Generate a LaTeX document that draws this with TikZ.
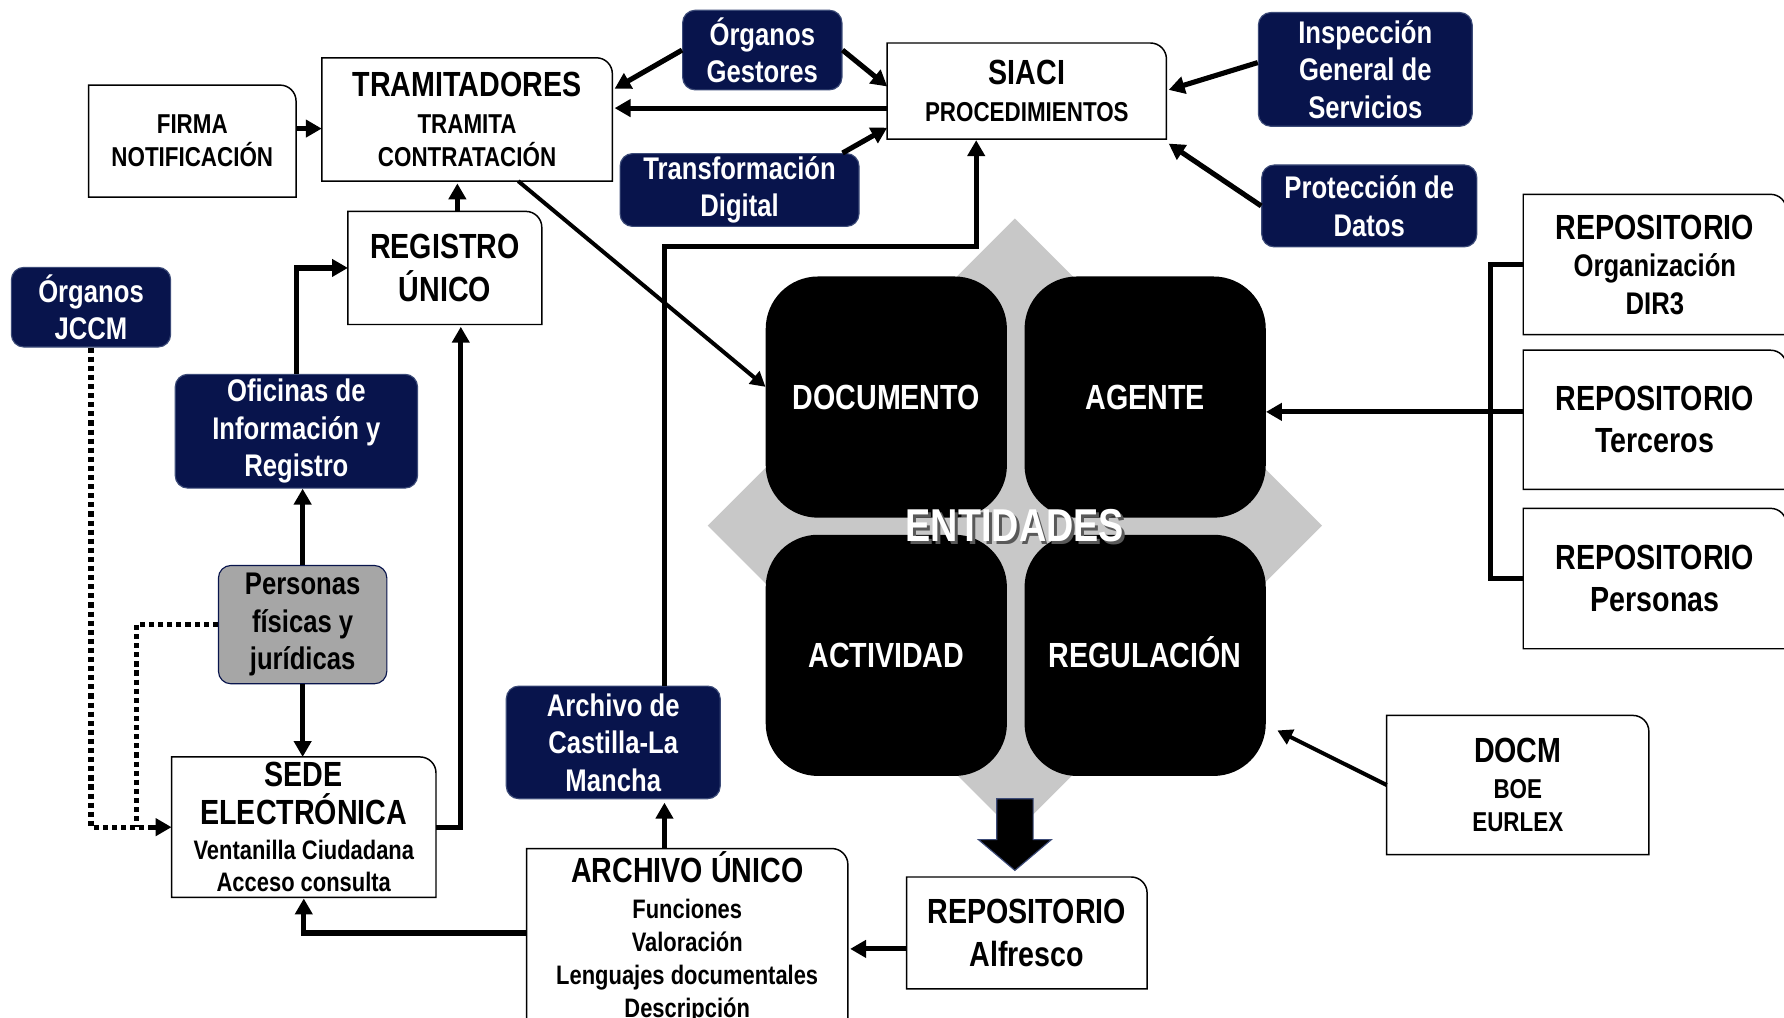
\documentclass[tikz,border=0pt]{standalone}
\usepackage{fontspec}
\setmainfont[FakeStretch=0.82]{Liberation Sans}
\usepackage{tikz}
\usetikzlibrary{arrows.meta}

\definecolor{navy}{RGB}{8,20,76}
\definecolor{navyline}{RGB}{60,75,120}
\definecolor{diamondgray}{RGB}{200,200,200}
\definecolor{persgray}{RGB}{166,166,166}

\newcommand{\bigtxt}{\fontsize{30.7}{35}\selectfont}
\newcommand{\midtxt}{\fontsize{27.5}{33}\selectfont}
\newcommand{\smalltxt}{\fontsize{24}{29}\selectfont}

\tikzset{
  docbox/.style={inner sep=0pt, align=center, font=\bfseries\smalltxt},
  frame/.style={line width=1.3pt},
  navybox/.style={fill=navy, draw=navyline, line width=1pt, rounded corners=11pt,
    text=white, inner sep=0pt, align=center, font=\bfseries\midtxt},
  entity/.style={fill=black, rounded corners=46pt, minimum size=212pt, inner sep=0pt,
    text height=22pt, text depth=0pt, text=white, font=\bfseries\bigtxt},
  arr/.style={line width=4.5pt, -{Triangle[length=14pt,width=15pt]}},
  thinarr/.style={line width=3.5pt, -{Triangle[length=13pt,width=14pt]}},
  link/.style={line width=4.5pt},
  dots/.style={line width=4.5pt, dash pattern=on 4.5pt off 3.5pt},
}

% frame with only the upper right corner rounded
\newcommand{\docframe}[1]{%
  \draw[frame] (#1.south west) -- (#1.north west) -- ([xshift=-14pt]#1.north east)
    arc[start angle=90, end angle=0, radius=14pt] -- (#1.south east) -- cycle;}

\begin{document}
\begin{tikzpicture}[x=1pt,y=-1pt]
  \useasboundingbox (0,0) rectangle (1568,894);
  \clip (0,0) rectangle (1568,894);

  % centre
  \fill[diamondgray] (892,192) -- (1162,462) -- (892,732) -- (622,462) -- cycle;
  \node[entity] (doc) at (779,349) {DOCUMENTO};
  \node[entity] (agent) at (1006.5,349) {AGENTE};
  \node[entity] (act) at (779,576) {ACTIVIDAD};
  \node[entity] (regul) at (1006.5,576) {REGULACIÓN};
  \node[text=black!65, font=\bfseries\fontsize{40.5}{44}\selectfont] at (894.5,464.5) {ENTIDADES};
  \node[text=white, font=\bfseries\fontsize{40.5}{44}\selectfont] (ent) at (892,462) {ENTIDADES};
  \filldraw[fill=black, draw=navyline, line width=1pt]
    (876,702) -- (908,702) -- (908,738) -- (924,738) -- (892,765) -- (860,738) -- (876,738) -- cycle;

  % white boxes
  \node[docbox, minimum width=182pt, minimum height=98pt] (firma) at (169,124)
    {FIRMA\\NOTIFICACIÓN};
  \node[docbox, minimum width=255pt, minimum height=108pt] (tram) at (410.5,105)
    {{\bigtxt TRAMITADORES}\\[3pt]TRAMITA\\CONTRATACIÓN};
  \node[docbox, minimum width=245pt, minimum height=84pt] (siaci) at (902.5,80)
    {{\bigtxt SIACI}\\[3pt]PROCEDIMIENTOS};
  \node[docbox, minimum width=170pt, minimum height=99pt, font=\bfseries\bigtxt] (reg) at (391,235.5)
    {REGISTRO\\[2pt]ÚNICO};
  \node[docbox, minimum width=232pt, minimum height=123pt, font=\bfseries\fontsize{23.5}{28}\selectfont] (sede) at (267,727)
    {{\bigtxt SEDE}\\[5pt]{\bigtxt ELECTRÓNICA}\\[3pt]Ventanilla Ciudadana\\Acceso consulta};
  \node[docbox, minimum width=282pt, minimum height=156pt, font=\bfseries\fontsize{23.5}{29}\selectfont] (archu) at (604,824)
    {{\bigtxt ARCHIVO ÚNICO}\\[3pt]Funciones\\Valoración\\Lenguajes documentales\\Descripción};
  \node[docbox, minimum width=211pt, minimum height=98pt, font=\bfseries\bigtxt] (alf) at (902.5,820)
    {REPOSITORIO\\[2pt]Alfresco};
  \node[docbox, minimum width=230pt, minimum height=122pt] (docm) at (1334,690)
    {{\bigtxt DOCM}\\[3pt]BOE\\EURLEX};
  \node[docbox, minimum width=231pt, minimum height=123pt, font=\bfseries\midtxt] (rorg) at (1454.5,232.5)
    {{\bigtxt REPOSITORIO}\\Organización\\DIR3};
  \node[docbox, minimum width=231pt, minimum height=122pt, font=\bfseries\bigtxt] (rter) at (1454.5,369)
    {REPOSITORIO\\[2pt]Terceros};
  \node[docbox, minimum width=231pt, minimum height=123pt, font=\bfseries\bigtxt] (rper) at (1454.5,508.5)
    {REPOSITORIO\\[2pt]Personas};
  \foreach \b in {firma,tram,siaci,reg,sede,archu,alf,docm,rorg,rter,rper}
    \docframe{\b};

  % blue boxes
  \node[navybox, minimum width=140pt, minimum height=70pt] (ogest) at (670,44) {Órganos\\Gestores};
  \node[navybox, minimum width=210pt, minimum height=64pt] (tdig) at (650,167) {Transformación\\Digital};
  \node[navybox, minimum width=188pt, minimum height=100pt] (insp) at (1200,61) {Inspección\\General de\\Servicios};
  \node[navybox, minimum width=189pt, minimum height=72pt] (prot) at (1203.5,181) {Protección de\\Datos};
  \node[navybox, minimum width=140pt, minimum height=70pt] (ojccm) at (80,270) {Órganos\\JCCM};
  \node[navybox, minimum width=213pt, minimum height=100pt] (ofic) at (260.5,379) {Oficinas de\\Información y\\Registro};
  \node[navybox, minimum width=188pt, minimum height=99pt] (archclm) at (539,652.5) {Archivo de\\Castilla-La\\Mancha};
  \node[navybox, fill=persgray, draw=navy, text=black, minimum width=148pt, minimum height=104pt] (pers) at (266,549)
    {Personas\\físicas y\\jurídicas};

  % connectors
  \draw[arr] ([yshift=11pt]firma.east) -- ([yshift=11pt]firma.east -| tram.west);
  \draw[arr] (ogest.west) -- ([xshift=2pt,yshift=27pt]tram.east);
  \draw[arr] (ogest.east) -- ([yshift=4pt]siaci.west);
  \draw[arr] ([yshift=-15pt]siaci.west) -- ([xshift=2pt,yshift=-15pt]siaci.west -| tram.east);
  \draw[arr] ([xshift=-15pt]tdig.north east) -- ([yshift=10pt]siaci.south west);
  \draw[arr] ([yshift=6pt]insp.west) -- ([xshift=2pt,yshift=1pt]siaci.east);
  \draw[arr] (prot.west) -- ([xshift=2pt,yshift=-4pt]siaci.south east);
  \draw[thinarr] ([xshift=45pt]tram.south) -- ([yshift=9pt]doc.west);
  \draw[arr] ([xshift=11pt]reg.north) -- ([xshift=11pt,yshift=-2pt]reg.north |- tram.south);
  \draw[dots] (ojccm.south) |- ([xshift=-16pt]sede.west);
  \draw[dots] (pers.west) -| ([xshift=-31pt]sede.west);
  \draw[arr] ([xshift=-18pt]sede.west) -- (sede.west);
  \draw[arr] (ofic.north) |- (reg.west);
  \draw[arr] (pers.north) -- (pers.north |- ofic.south);
  \draw[arr] (pers.south) -- (pers.south |- sede.north);
  \draw[arr] (sede.east) -| ([xshift=14pt,yshift=-2pt]reg.south);
  \draw[arr] ([yshift=4pt]archu.west) -| ([yshift=-1pt]sede.south);
  \draw[arr] ([xshift=-20pt]archu.north) -- ([xshift=-20pt,yshift=-3pt]archu.north |- archclm.south);
  \draw[arr] ([xshift=45pt]archclm.north) -- ++(0,-386) -| ([xshift=-44.5pt,yshift=-1pt]siaci.south);
  \draw[arr] ([yshift=-14pt]alf.west) -- ([xshift=2pt,yshift=-14pt]alf.west -| archu.east);
  \draw[link] (rorg.west) -| ([xshift=-29pt]rper.west) -- (rper.west);
  \draw[arr] ([yshift=7pt]rter.west) -- ([yshift=7pt]rter.west -| agent.east);
  \draw[thinarr] (docm.west) -- ([xshift=10pt,yshift=-66pt]regul.east);
\end{tikzpicture}
\end{document}
